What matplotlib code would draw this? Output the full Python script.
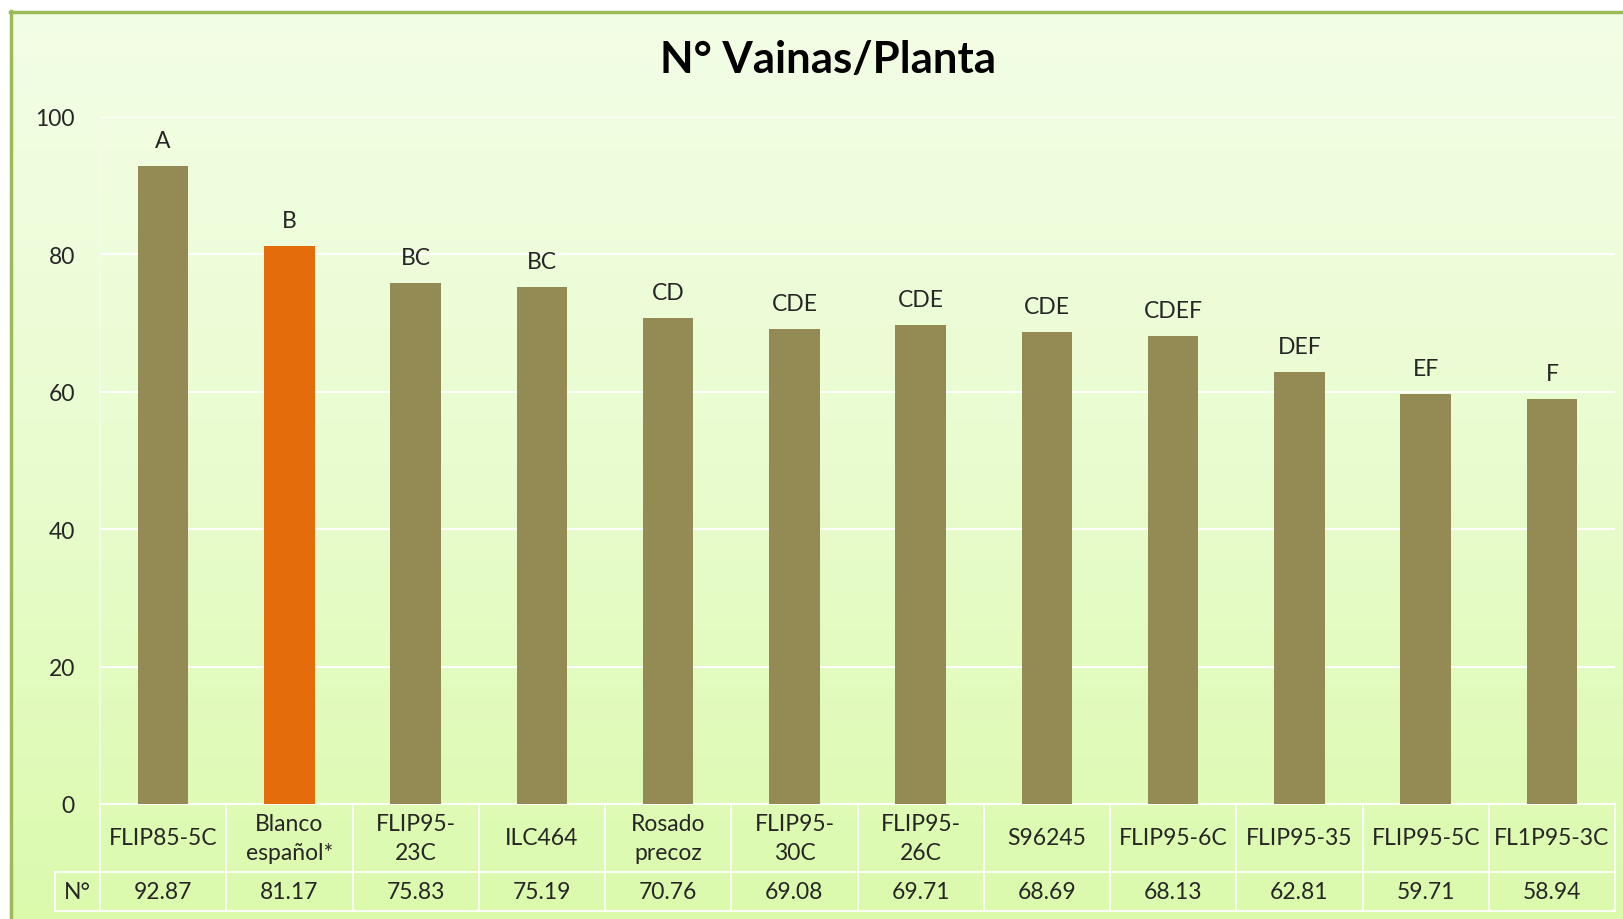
import numpy as np
import matplotlib
matplotlib.use("Agg")
import matplotlib.pyplot as plt
from matplotlib.lines import Line2D
from matplotlib.colors import LinearSegmentedColormap
import matplotlib.transforms as mtransforms

plt.rcParams["font.family"] = ["Lato", "DejaVu Sans"]

# data
varieties = ["FLIP85-5C", "Blanco\nespañol*", "FLIP95-\n23C", "ILC464", "Rosado\nprecoz",
             "FLIP95-\n30C", "FLIP95-\n26C", "S96245", "FLIP95-6C", "FLIP95-35",
             "FLIP95-5C", "FL1P95-3C"]
vainas = [92.87, 81.17, 75.83, 75.19, 70.76, 69.08, 69.71, 68.69, 68.13, 62.81, 59.71, 58.94]
groups = ["A", "B", "BC", "BC", "CD", "CDE", "CDE", "CDE", "CDEF", "DEF", "EF", "F"]
check_name = "Blanco\nespañol*"
yticks = [0, 20, 40, 60, 80, 100]

W, H = 1623, 920
fig = plt.figure(figsize=(W / 100, H / 100), dpi=100)
fig.patch.set_facecolor("white")

# gradient background inside the chart border
bg = fig.add_axes([10 / W, 0, 1 - 10 / W, 1 - 12 / H])
bg.set_axis_off()
grad = LinearSegmentedColormap.from_list("g", ["#F3FEE6", "#E9FCCF", "#DBFAAC"])
bg.imshow(np.linspace(0, 1, 256).reshape(-1, 1), aspect="auto", cmap=grad,
          extent=[0, 1, 0, 1], origin="upper")
bg.set_xlim(0, 1)
bg.set_ylim(0, 1)
fig.add_artist(Line2D([11 / W, 11 / W], [0, 1 - 12 / H], color="#9BBB59", lw=2.5,
                      transform=fig.transFigure))
fig.add_artist(Line2D([10 / W, 1], [1 - 13 / H, 1 - 13 / H], color="#9BBB59", lw=2.5,
                      transform=fig.transFigure))

ax = fig.add_axes([100 / W, 1 - 805 / H, 1515 / W, 687 / H])
ax.patch.set_alpha(0)
x = np.arange(len(vainas))
colors = ["#E46C0A" if v == check_name else "#948A54" for v in varieties]
ax.bar(x, vainas, width=0.4, color=colors, zorder=3)

for xi, v, g in zip(x, vainas, groups):
    ax.annotate(g, (xi, v), xytext=(0, 11), textcoords="offset points",
                ha="center", va="bottom", fontsize=16.5, color="#262626")

ax.set_xlim(-0.5, len(vainas) - 0.5)
ax.set_ylim(0, 100)
ax.set_yticks(yticks)
ax.tick_params(axis="y", length=0, pad=18, labelsize=16.5, labelcolor="#262626")
ax.set_xticks([])
ax.grid(axis="y", color="white", lw=1.5, zorder=0)
for s in ["top", "right", "bottom"]:
    ax.spines[s].set_visible(False)
ax.spines["left"].set_color("#F4FBEA")
ax.spines["left"].set_linewidth(1.2)

fig.text(828 / W, 1 - 60 / H, "N° Vainas/Planta", fontsize=31.5, fontweight="bold",
         ha="center", va="center", color="black")

# data table under the axis
tr = mtransforms.blended_transform_factory(ax.transData, ax.transAxes)
r1, r2 = -68 / 687, -107 / 687
lkw = dict(color="white", lw=1.3, transform=tr, clip_on=False)
for xi, name, v in zip(x, varieties, vainas):
    ax.text(xi, (0 + r1) / 2, name, transform=tr, ha="center", va="center",
            fontsize=16.5, color="#262626", linespacing=1.45)
    ax.text(xi, (r1 + r2) / 2, f"{v:.2f}", transform=tr, ha="center", va="center",
            fontsize=16.5, color="#262626")
for b in np.arange(len(vainas) + 1) - 0.5:
    ax.plot([b, b], [0, r2], **lkw)
x_lab = -0.5 - 45 / 126.25
ax.plot([-0.5, len(vainas) - 0.5], [0, 0], **lkw)
ax.plot([x_lab, len(vainas) - 0.5], [r1, r1], **lkw)
ax.plot([x_lab, len(vainas) - 0.5], [r2, r2], **lkw)
ax.plot([x_lab, x_lab], [r1, r2], **lkw)
ax.text((x_lab - 0.5) / 2, (r1 + r2) / 2, "N°", transform=tr, ha="center", va="center",
        fontsize=16.5, color="#262626")

fig.savefig("out.png", dpi=100)
